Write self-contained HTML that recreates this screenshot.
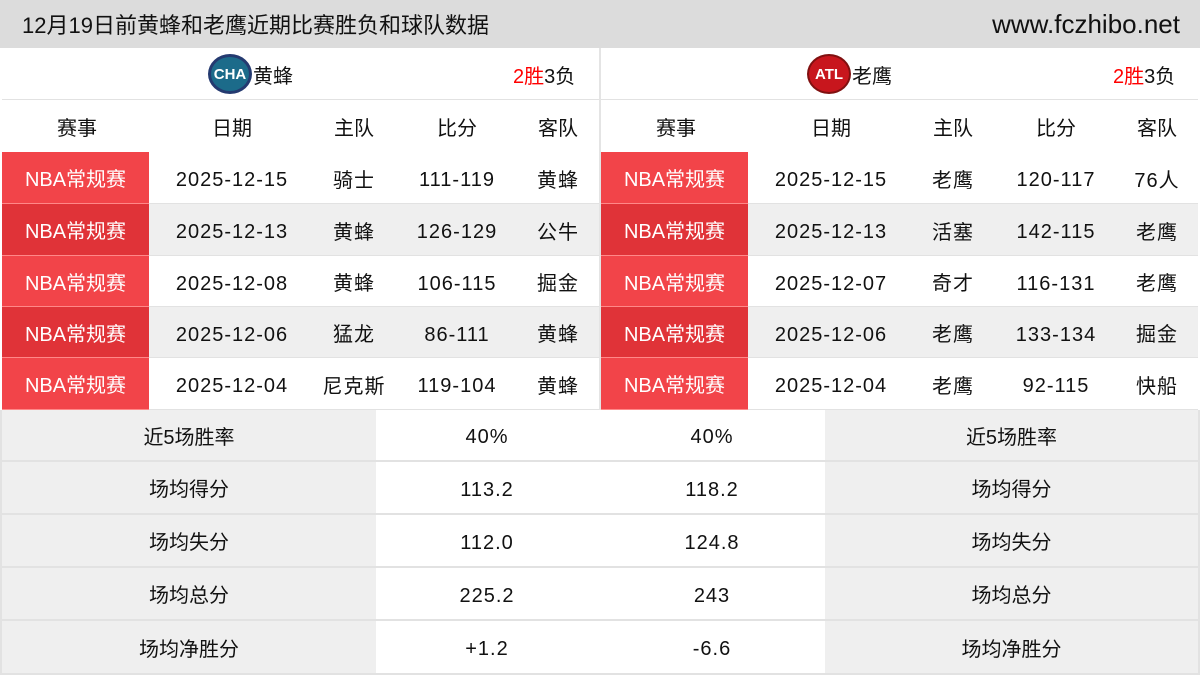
<!DOCTYPE html>
<html><head><meta charset="utf-8"><style>
*{margin:0;padding:0;box-sizing:border-box}
body{width:1200px;height:675px;background:#fff;font-family:"Liberation Sans","Noto Sans CJK SC",sans-serif;position:relative;overflow:hidden;color:#111}
.a{position:absolute;display:flex;align-items:center;justify-content:center;font-size:20px}
.n{padding-top:5px}
.b{border-bottom:1px solid #e2e2e2}
</style></head><body>
<div class="a" style="left:0;top:0;width:1200px;height:48px;background:#dcdcdc;justify-content:space-between;padding:0 20px 0 22px;font-size:22px"><span>12月19日前黄蜂和老鹰近期比赛胜负和球队数据</span><span style="font-size:26px">www.fczhibo.net</span></div>
<div style="position:absolute;left:599px;top:48px;width:2px;height:362px;background:#e4e4e4"></div>

<div class="a b" style="left:2px;top:48px;width:597px;height:52px"></div>
<div style="position:absolute;left:208px;top:54px;width:44px;height:40px;border-radius:50%;background:#1c6b8a;border:3px solid #243a70;color:#fff;font-weight:bold;font-size:15px;display:flex;align-items:center;justify-content:center">CHA</div>
<div class="a" style="left:253px;top:48px;height:52px">黄蜂</div>
<div class="a" style="left:513px;top:48px;height:52px"><span style="color:#f00">2胜</span>3负</div>

<div class="a b" style="left:601px;top:48px;width:597px;height:52px"></div>
<div style="position:absolute;left:807px;top:54px;width:44px;height:40px;border-radius:50%;background:#c8161d;border:2px solid #801010;color:#fff;font-weight:bold;font-size:15px;display:flex;align-items:center;justify-content:center">ATL</div>
<div class="a" style="left:852px;top:48px;height:52px">老鹰</div>
<div class="a" style="left:1113px;top:48px;height:52px"><span style="color:#f00">2胜</span>3负</div>

<div id="t"></div>
<script>
var L=[["2025-12-15","骑士","111-119","黄蜂"],["2025-12-13","黄蜂","126-129","公牛"],["2025-12-08","黄蜂","106-115","掘金"],["2025-12-06","猛龙","86-111","黄蜂"],["2025-12-04","尼克斯","119-104","黄蜂"]];
var R=[["2025-12-15","老鹰","120-117","76人"],["2025-12-13","活塞","142-115","老鹰"],["2025-12-07","奇才","116-131","老鹰"],["2025-12-06","老鹰","133-134","掘金"],["2025-12-04","老鹰","92-115","快船"]];
var ys=[152,204,256,307,358,410],h="";
function side(x0,d){
 var cx=[75,230,352,455,556],hd=["赛事","日期","主队","比分","客队"];
 for(var i=0;i<5;i++)h+='<div class="a" style="left:'+(x0+cx[i]-60)+'px;top:100px;width:120px;height:52px">'+hd[i]+'</div>';
 for(var r=0;r<5;r++){var y=ys[r],hh=ys[r+1]-y;
  h+='<div class="a b" style="left:'+x0+'px;top:'+y+'px;width:597px;height:'+hh+'px;background:'+(r%2?'#efefef':'#fff')+'"></div>';
  h+='<div class="a" style="left:'+x0+'px;top:'+y+'px;width:147px;height:'+hh+'px;color:#fff;background:'+(r%2?'#e03338':'#f24449')+';border-bottom:1px solid #f88">NBA常规赛</div>';
  for(var i=0;i<4;i++){var num=(i==0||i==2);h+='<div class="a'+(num?' n':'')+'" style="left:'+(x0+cx[i+1]-70)+'px;top:'+y+'px;width:140px;height:'+hh+'px;letter-spacing:1px">'+d[r][i]+'</div>';}}
}
side(2,L);side(601,R);
var S=[["近5场胜率","40%","40%"],["场均得分","113.2","118.2"],["场均失分","112.0","124.8"],["场均总分","225.2","243"],["场均净胜分","+1.2","-6.6"]];
var sy=[410,462,515,568,621,675];
for(var r=0;r<5;r++){var y=sy[r],hh=sy[r+1]-y-2;
 h+='<div class="a" style="left:2px;top:'+y+'px;width:374px;height:'+hh+'px;background:#efefef">'+S[r][0]+'</div>';
 h+='<div class="a n" style="left:376px;top:'+y+'px;width:222px;height:'+hh+'px;letter-spacing:1px">'+S[r][1]+'</div>';
 h+='<div class="a n" style="left:601px;top:'+y+'px;width:222px;height:'+hh+'px;letter-spacing:1px">'+S[r][2]+'</div>';
 h+='<div class="a" style="left:825px;top:'+y+'px;width:373px;height:'+hh+'px;background:#efefef">'+S[r][0]+'</div>';
 h+='<div style="position:absolute;left:0;top:'+(y+hh)+'px;width:1200px;height:2px;background:#e2e2e2"></div>';}
document.getElementById('t').innerHTML=h;
</script>
<div style="position:absolute;left:0;top:410px;width:2px;height:265px;background:#e2e2e2"></div>
<div style="position:absolute;left:1198px;top:410px;width:2px;height:265px;background:#e2e2e2"></div>
</body></html>
